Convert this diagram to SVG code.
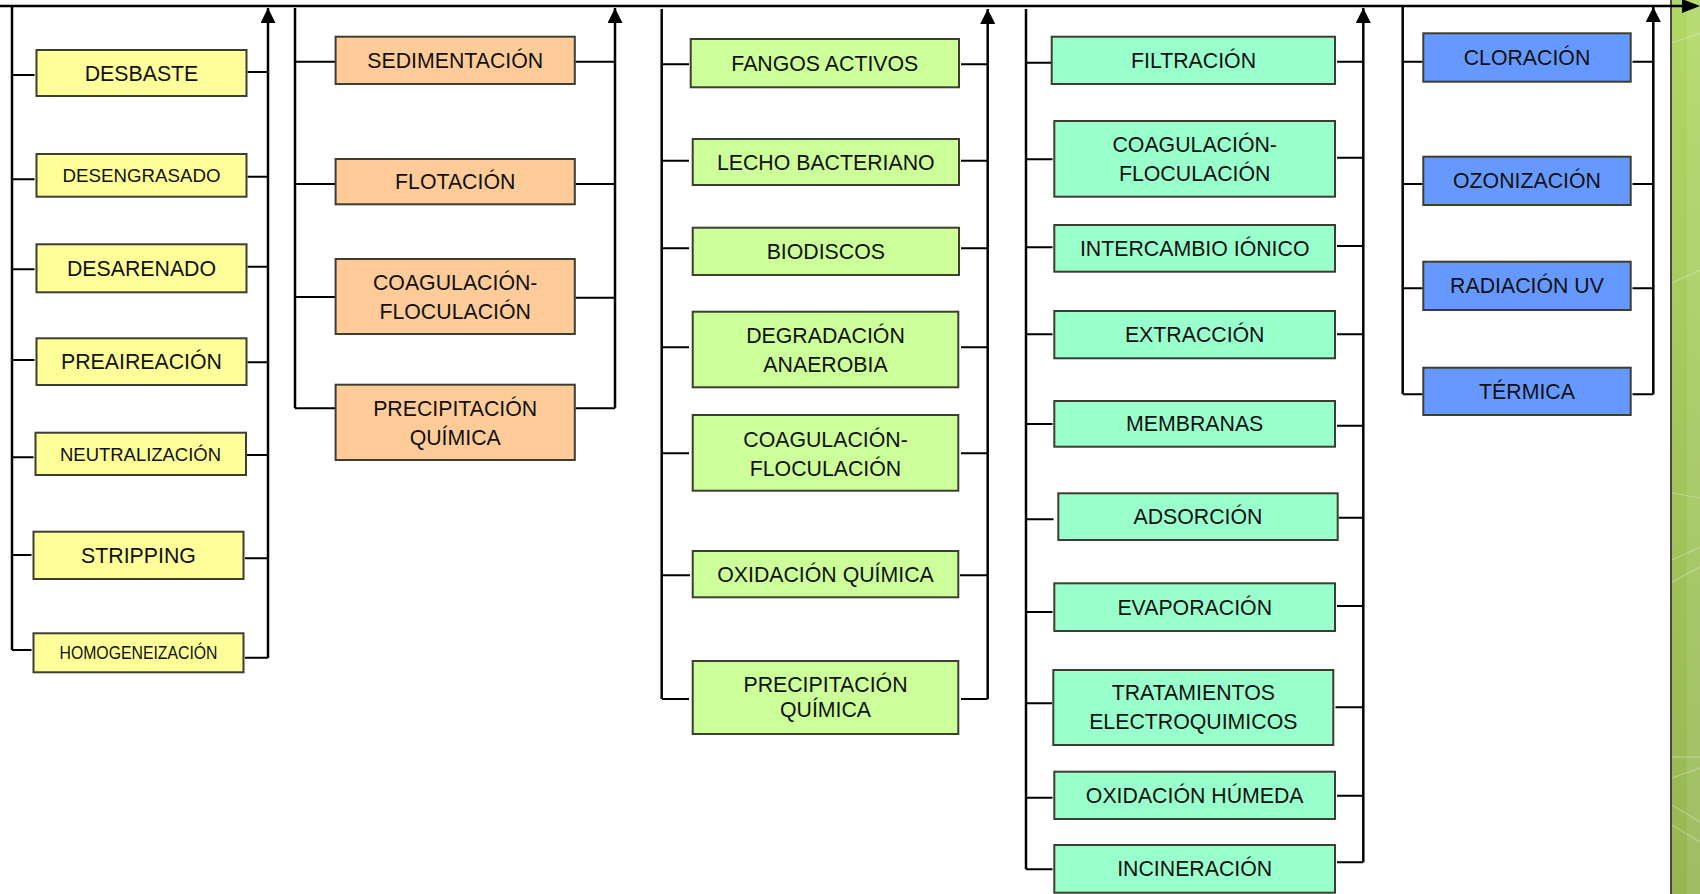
<svg xmlns="http://www.w3.org/2000/svg" width="1700" height="894" viewBox="0 0 1700 894">
  <defs>
    <style>
      .box{stroke:#3d3d30;stroke-width:2}
      .y{fill:#FFFF99}
      .o{fill:#FFCC99}
      .g{fill:#CCFF99}
      .a{fill:#99FFCC}
      .b{fill:#6699FF}
      text{font-family:"Liberation Sans",Arial,sans-serif;font-size:21.3px;fill:#111;text-anchor:middle}
      .ln{stroke:#000;stroke-width:2.5;fill:none}
      .st{stroke:#000;stroke-width:2;fill:none}
      .arw{stroke:#000;stroke-width:2.5;fill:none;marker-end:url(#up)}
      .streak{stroke:#ffffff;stroke-width:1.2;opacity:0.3}
    </style>
    <marker id="up" viewBox="0 0 15 15" refX="15" refY="7.5" markerWidth="15" markerHeight="15" markerUnits="userSpaceOnUse" orient="auto">
      <path d="M0,0 L15,7.5 L0,15 z" fill="#000"/>
    </marker>
    <linearGradient id="stripFill" x1="0" y1="0" x2="0" y2="1">
      <stop offset="0" stop-color="#b0d865"/>
      <stop offset="0.5" stop-color="#a3c65c"/>
      <stop offset="1" stop-color="#96b652"/>
    </linearGradient>
  </defs>

  <rect width="1700" height="894" fill="#ffffff"/>

  <!-- decorative green band on the right edge -->
  <g id="side-band">
    <rect x="1672" y="0" width="28" height="894" fill="url(#stripFill)"/>
    <rect x="1687" y="0" width="13" height="894" fill="#ffffff" opacity="0.1"/>
    <line x1="1671" y1="0" x2="1671" y2="894" stroke="#4a4a3c" stroke-width="2"/>
    <line class="streak" x1="1672" y1="43" x2="1700" y2="33"/>
    <line class="streak" x1="1672" y1="283" x2="1700" y2="270"/>
    <line class="streak" x1="1672" y1="493" x2="1700" y2="498"/>
    <line class="streak" x1="1672" y1="560" x2="1700" y2="547"/>
    <line class="streak" x1="1672" y1="582" x2="1700" y2="567"/>
    <line class="streak" x1="1672" y1="757" x2="1700" y2="757"/>
    <line class="streak" x1="1672" y1="778" x2="1700" y2="768"/>
    <line class="streak" x1="1672" y1="805" x2="1700" y2="822"/>
    <line class="streak" x1="1672" y1="825" x2="1700" y2="842"/>
  </g>

  <g id="connectors">
    <!-- main flow line -->
    <line class="ln" x1="0" y1="6" x2="1684" y2="6"/>
    <path d="M1682,-1 L1700,6 L1682,13 z" fill="#000"/>

    <!-- column 1 -->
    <path class="ln" d="M12,7 V650"/>
    <path class="arw" d="M268,658 V8"/>
    <path class="st" d="M12,75 H34.5 M12,179.3 H34.5 M12,269.3 H34.5 M12,360 H34.5 M12,457.3 H33.5 M12,555 H31.5 M12,650 H31.5"/>
    <path class="st" d="M247.5,72 H268 M247.5,176.7 H268 M247.5,266.7 H268 M247.5,362.3 H268 M247,455 H268 M245,558.3 H268 M245,657.7 H268"/>

    <!-- column 2 -->
    <path class="ln" d="M295,8 V408.3"/>
    <path class="arw" d="M615,408.3 V8"/>
    <path class="st" d="M295,61.7 H335 M295,184 H335 M295,297 H335 M295,408.3 H335"/>
    <path class="st" d="M575.5,61.7 H615 M575.5,184 H615 M575.5,297.7 H615 M575.5,408.3 H615"/>

    <!-- column 3 -->
    <path class="ln" d="M661.7,9 V699"/>
    <path class="arw" d="M987.7,699 V9"/>
    <path class="st" d="M662,64.3 H689 M662,160.7 H689 M662,248.3 H689 M662,347.3 H689 M662,453.3 H689 M662,575.3 H690 M662,699 H689"/>
    <path class="st" d="M961,64.3 H987.7 M961,160.7 H987.7 M961,248.3 H987.7 M961,347.3 H987.7 M961,453.3 H987.7 M960,575.3 H987.7 M961,699 H987.7"/>

    <!-- column 4 -->
    <path class="ln" d="M1026,9 V869.3"/>
    <path class="arw" d="M1363.3,862.3 V8"/>
    <path class="st" d="M1026,62.7 H1052 M1026,159.3 H1052.5 M1026,247.3 H1052.5 M1026,334.3 H1052.5 M1026,424 H1052.5 M1026,519.3 H1053.5 M1026,612 H1052.5 M1026,703.3 H1052 M1026,797.7 H1052.5 M1026,869.3 H1052.5"/>
    <path class="st" d="M1337,61.7 H1363.3 M1337,157.7 H1363.3 M1337,246 H1363.3 M1337,334.3 H1363.3 M1337,425.7 H1363.3 M1338.7,517.7 H1363.3 M1337,606 H1363.3 M1335.5,707.3 H1363.3 M1337,795.7 H1363.3 M1337,862.3 H1363.3"/>

    <!-- column 5 -->
    <path class="ln" d="M1402.7,7 V394.3"/>
    <path class="arw" d="M1653.3,394.3 V7"/>
    <path class="st" d="M1403,61.7 H1422.5 M1403,184 H1422.5 M1403,288.3 H1422.5 M1403,394.3 H1422.5"/>
    <path class="st" d="M1632.5,61.7 H1653.3 M1632.5,184 H1653.3 M1632.5,288.3 H1653.3 M1632.5,394.3 H1653.3"/>
  </g>

  <!-- column 1: pretreatment -->
  <g id="n-desbaste"><rect class="box y" x="36.5" y="50" width="210" height="46"/><text x="141.5" y="80.6">DESBASTE</text></g>
  <g id="n-desengrasado"><rect class="box y" x="36.5" y="154" width="210" height="42.7"/><text x="141.5" y="182" style="font-size:18.7px">DESENGRASADO</text></g>
  <g id="n-desarenado"><rect class="box y" x="36.5" y="244.3" width="210" height="48"/><text x="141.5" y="276">DESARENADO</text></g>
  <g id="n-preaireacion"><rect class="box y" x="36.5" y="338.3" width="210" height="46.7"/><text x="141.5" y="369.3">PREAIREACIÓN</text></g>
  <g id="n-neutralizacion"><rect class="box y" x="35.5" y="432.7" width="210.5" height="42.3"/><text x="140.5" y="461" style="font-size:18.5px" textLength="161" lengthAdjust="spacingAndGlyphs">NEUTRALIZACIÓN</text></g>
  <g id="n-stripping"><rect class="box y" x="33.5" y="531.7" width="210" height="47.3"/><text x="138.5" y="563">STRIPPING</text></g>
  <g id="n-homogeneizacion"><rect class="box y" x="33.5" y="633.3" width="210" height="39"/><text x="138.5" y="659.3" style="font-size:17.5px" textLength="158" lengthAdjust="spacingAndGlyphs">HOMOGENEIZACIÓN</text></g>

  <!-- column 2: physico-chemical -->
  <g id="n-sedimentacion"><rect class="box o" x="335.6" y="36.7" width="239.2" height="47.3"/><text x="455.2" y="67.9">SEDIMENTACIÓN</text></g>
  <g id="n-flotacion"><rect class="box o" x="335.6" y="159" width="239.2" height="45.3"/><text x="455.2" y="189.3">FLOTACIÓN</text></g>
  <g id="n-coagulacion-1"><rect class="box o" x="335.6" y="259" width="239.2" height="75"/><text x="455.2" y="290">COAGULACIÓN-</text><text x="455.2" y="318.5">FLOCULACIÓN</text></g>
  <g id="n-precipitacion-1"><rect class="box o" x="335.6" y="384.7" width="239.2" height="75.3"/><text x="455.2" y="416">PRECIPITACIÓN</text><text x="455.2" y="445">QUÍMICA</text></g>

  <!-- column 3: biological / chemical -->
  <g id="n-fangos"><rect class="box g" x="690.7" y="39" width="268.3" height="48.3"/><text x="824.8" y="70.8">FANGOS ACTIVOS</text></g>
  <g id="n-lecho"><rect class="box g" x="692.7" y="139" width="266.3" height="46"/><text x="825.8" y="169.6">LECHO BACTERIANO</text></g>
  <g id="n-biodiscos"><rect class="box g" x="692.7" y="227.7" width="266.3" height="47.3"/><text x="825.8" y="258.9">BIODISCOS</text></g>
  <g id="n-degradacion"><rect class="box g" x="692.7" y="311.7" width="265.6" height="75.6"/><text x="825.5" y="343.3">DEGRADACIÓN</text><text x="825.5" y="371.7">ANAEROBIA</text></g>
  <g id="n-coagulacion-2"><rect class="box g" x="692.7" y="415" width="265.6" height="75.7"/><text x="825.5" y="446.5">COAGULACIÓN-</text><text x="825.5" y="475.5">FLOCULACIÓN</text></g>
  <g id="n-oxidacion-quimica"><rect class="box g" x="692.7" y="551" width="265.6" height="46.3"/><text x="825.5" y="582">OXIDACIÓN QUÍMICA</text></g>
  <g id="n-precipitacion-2"><rect class="box g" x="692.7" y="661" width="265.6" height="73"/><text x="825.5" y="692">PRECIPITACIÓN</text><text x="825.5" y="717">QUÍMICA</text></g>

  <!-- column 4: advanced treatment -->
  <g id="n-filtracion"><rect class="box a" x="1051.7" y="36.7" width="283.3" height="47.3"/><text x="1193.5" y="67.9">FILTRACIÓN</text></g>
  <g id="n-coagulacion-3"><rect class="box a" x="1054.3" y="121" width="280.7" height="75.7"/><text x="1194.7" y="151.7">COAGULACIÓN-</text><text x="1194.7" y="181">FLOCULACIÓN</text></g>
  <g id="n-intercambio"><rect class="box a" x="1054.3" y="225" width="280.7" height="46.7"/><text x="1194.7" y="255.8">INTERCAMBIO IÓNICO</text></g>
  <g id="n-extraccion"><rect class="box a" x="1054.3" y="311" width="280.7" height="47.3"/><text x="1194.7" y="342.3">EXTRACCIÓN</text></g>
  <g id="n-membranas"><rect class="box a" x="1054.3" y="401" width="280.7" height="45.7"/><text x="1194.7" y="431.4">MEMBRANAS</text></g>
  <g id="n-adsorcion"><rect class="box a" x="1058.3" y="493.3" width="279.4" height="46.7"/><text x="1198" y="524.3">ADSORCIÓN</text></g>
  <g id="n-evaporacion"><rect class="box a" x="1054.3" y="583.3" width="280.7" height="47.7"/><text x="1194.7" y="614.8">EVAPORACIÓN</text></g>
  <g id="n-electroquimicos"><rect class="box a" x="1053.3" y="670" width="280" height="75"/><text x="1193.3" y="700">TRATAMIENTOS</text><text x="1193.3" y="729.3">ELECTROQUIMICOS</text></g>
  <g id="n-oxidacion-humeda"><rect class="box a" x="1054.3" y="771.7" width="280.7" height="47.3"/><text x="1194.7" y="802.9">OXIDACIÓN HÚMEDA</text></g>
  <g id="n-incineracion"><rect class="box a" x="1054.3" y="845" width="280.7" height="47.7"/><text x="1194.7" y="876.4">INCINERACIÓN</text></g>

  <!-- column 5: disinfection -->
  <g id="n-cloracion"><rect class="box b" x="1423.3" y="33.3" width="207.4" height="48.4"/><text x="1527" y="65.1">CLORACIÓN</text></g>
  <g id="n-ozonizacion"><rect class="box b" x="1423.3" y="156.7" width="207.4" height="48.3"/><text x="1527" y="188.4">OZONIZACIÓN</text></g>
  <g id="n-radiacion"><rect class="box b" x="1423.3" y="261.7" width="207.4" height="48.3"/><text x="1527" y="293.4">RADIACIÓN UV</text></g>
  <g id="n-termica"><rect class="box b" x="1423.3" y="367.7" width="207.4" height="47.3"/><text x="1527" y="399">TÉRMICA</text></g>
</svg>
